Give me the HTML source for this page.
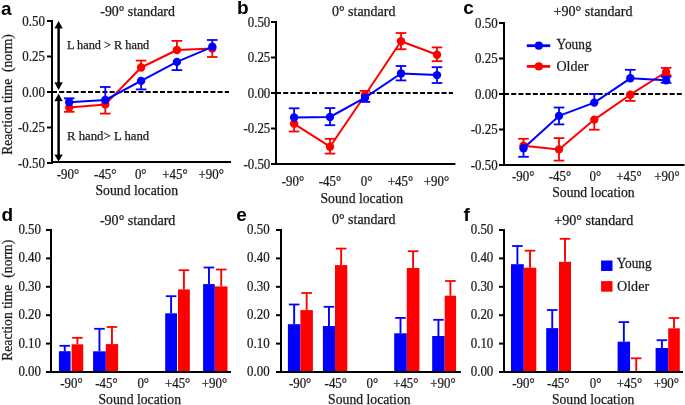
<!DOCTYPE html>
<html><head><meta charset="utf-8"><title>Figure</title>
<style>html,body{margin:0;padding:0;background:#fff;width:685px;height:405px;overflow:hidden}svg{display:block;will-change:transform}</style>
</head><body>
<svg width="685" height="405" viewBox="0 0 685 405">
<rect width="685" height="405" fill="#fff"/>
<line x1="52" y1="92" x2="229" y2="92" stroke="#000" stroke-width="1.9" stroke-dasharray="5 2.2"/>
<line x1="52" y1="20" x2="52" y2="164" stroke="#000" stroke-width="2"/>
<line x1="47" y1="21" x2="53" y2="21" stroke="#000" stroke-width="2"/>
<text transform="translate(44.9,25.9) scale(0.91,1)" font-size="14.2" text-anchor="end" font-family="'Liberation Serif', serif" font-weight="normal" fill="#1a1a1a" stroke="#1a1a1a" stroke-width="0.25">0.50</text>
<line x1="47" y1="56.5" x2="53" y2="56.5" stroke="#000" stroke-width="2"/>
<text transform="translate(44.9,61.4) scale(0.91,1)" font-size="14.2" text-anchor="end" font-family="'Liberation Serif', serif" font-weight="normal" fill="#1a1a1a" stroke="#1a1a1a" stroke-width="0.25">0.25</text>
<line x1="47" y1="92" x2="53" y2="92" stroke="#000" stroke-width="2"/>
<text transform="translate(44.9,96.9) scale(0.91,1)" font-size="14.2" text-anchor="end" font-family="'Liberation Serif', serif" font-weight="normal" fill="#1a1a1a" stroke="#1a1a1a" stroke-width="0.25">0.00</text>
<line x1="47" y1="127.5" x2="53" y2="127.5" stroke="#000" stroke-width="2"/>
<text transform="translate(44.9,132.4) scale(0.91,1)" font-size="14.2" text-anchor="end" font-family="'Liberation Serif', serif" font-weight="normal" fill="#1a1a1a" stroke="#1a1a1a" stroke-width="0.25">-0.25</text>
<line x1="47" y1="163" x2="53" y2="163" stroke="#000" stroke-width="2"/>
<text transform="translate(44.9,167.9) scale(0.91,1)" font-size="14.2" text-anchor="end" font-family="'Liberation Serif', serif" font-weight="normal" fill="#1a1a1a" stroke="#1a1a1a" stroke-width="0.25">-0.50</text>
<line x1="51" y1="162" x2="231" y2="162" stroke="#000" stroke-width="2"/>
<text transform="translate(68,178.9) scale(0.91,1)" font-size="14.2" text-anchor="middle" font-family="'Liberation Serif', serif" font-weight="normal" fill="#1a1a1a" stroke="#1a1a1a" stroke-width="0.25">-90&#176;</text>
<text transform="translate(105.3,178.9) scale(0.91,1)" font-size="14.2" text-anchor="middle" font-family="'Liberation Serif', serif" font-weight="normal" fill="#1a1a1a" stroke="#1a1a1a" stroke-width="0.25">-45&#176;</text>
<text transform="translate(140.7,178.9) scale(0.91,1)" font-size="14.2" text-anchor="middle" font-family="'Liberation Serif', serif" font-weight="normal" fill="#1a1a1a" stroke="#1a1a1a" stroke-width="0.25">0&#176;</text>
<text transform="translate(174.9,178.9) scale(0.91,1)" font-size="14.2" text-anchor="middle" font-family="'Liberation Serif', serif" font-weight="normal" fill="#1a1a1a" stroke="#1a1a1a" stroke-width="0.25">+45&#176;</text>
<text transform="translate(211.2,178.9) scale(0.91,1)" font-size="14.2" text-anchor="middle" font-family="'Liberation Serif', serif" font-weight="normal" fill="#1a1a1a" stroke="#1a1a1a" stroke-width="0.25">+90&#176;</text>
<text x="95.5" y="194.7" font-size="14" text-anchor="start" font-family="'Liberation Serif', serif" font-weight="normal" fill="#1a1a1a" textLength="82.5" lengthAdjust="spacingAndGlyphs" stroke="#1a1a1a" stroke-width="0.25">Sound location</text>
<text x="100.3" y="15.8" font-size="14" text-anchor="start" font-family="'Liberation Serif', serif" font-weight="normal" fill="#1a1a1a" textLength="74.6" lengthAdjust="spacingAndGlyphs" stroke="#1a1a1a" stroke-width="0.25">-90&#176; standard</text>
<line x1="276" y1="93" x2="453" y2="93" stroke="#000" stroke-width="1.9" stroke-dasharray="5 2.2"/>
<line x1="276" y1="21" x2="276" y2="165" stroke="#000" stroke-width="2"/>
<line x1="271" y1="22" x2="277" y2="22" stroke="#000" stroke-width="2"/>
<text transform="translate(270.3,26.9) scale(0.91,1)" font-size="14.2" text-anchor="end" font-family="'Liberation Serif', serif" font-weight="normal" fill="#1a1a1a" stroke="#1a1a1a" stroke-width="0.25">0.50</text>
<line x1="271" y1="57.5" x2="277" y2="57.5" stroke="#000" stroke-width="2"/>
<text transform="translate(270.3,62.4) scale(0.91,1)" font-size="14.2" text-anchor="end" font-family="'Liberation Serif', serif" font-weight="normal" fill="#1a1a1a" stroke="#1a1a1a" stroke-width="0.25">0.25</text>
<line x1="271" y1="93" x2="277" y2="93" stroke="#000" stroke-width="2"/>
<text transform="translate(270.3,97.9) scale(0.91,1)" font-size="14.2" text-anchor="end" font-family="'Liberation Serif', serif" font-weight="normal" fill="#1a1a1a" stroke="#1a1a1a" stroke-width="0.25">0.00</text>
<line x1="271" y1="128.5" x2="277" y2="128.5" stroke="#000" stroke-width="2"/>
<text transform="translate(270.3,133.4) scale(0.91,1)" font-size="14.2" text-anchor="end" font-family="'Liberation Serif', serif" font-weight="normal" fill="#1a1a1a" stroke="#1a1a1a" stroke-width="0.25">-0.25</text>
<line x1="271" y1="164" x2="277" y2="164" stroke="#000" stroke-width="2"/>
<text transform="translate(270.3,168.9) scale(0.91,1)" font-size="14.2" text-anchor="end" font-family="'Liberation Serif', serif" font-weight="normal" fill="#1a1a1a" stroke="#1a1a1a" stroke-width="0.25">-0.50</text>
<line x1="275" y1="164" x2="455.4" y2="164" stroke="#000" stroke-width="2"/>
<text transform="translate(293,185.8) scale(0.91,1)" font-size="14.2" text-anchor="middle" font-family="'Liberation Serif', serif" font-weight="normal" fill="#1a1a1a" stroke="#1a1a1a" stroke-width="0.25">-90&#176;</text>
<text transform="translate(329.9,185.8) scale(0.91,1)" font-size="14.2" text-anchor="middle" font-family="'Liberation Serif', serif" font-weight="normal" fill="#1a1a1a" stroke="#1a1a1a" stroke-width="0.25">-45&#176;</text>
<text transform="translate(366.5,185.8) scale(0.91,1)" font-size="14.2" text-anchor="middle" font-family="'Liberation Serif', serif" font-weight="normal" fill="#1a1a1a" stroke="#1a1a1a" stroke-width="0.25">0&#176;</text>
<text transform="translate(400.4,185.8) scale(0.91,1)" font-size="14.2" text-anchor="middle" font-family="'Liberation Serif', serif" font-weight="normal" fill="#1a1a1a" stroke="#1a1a1a" stroke-width="0.25">+45&#176;</text>
<text transform="translate(436.5,185.8) scale(0.91,1)" font-size="14.2" text-anchor="middle" font-family="'Liberation Serif', serif" font-weight="normal" fill="#1a1a1a" stroke="#1a1a1a" stroke-width="0.25">+90&#176;</text>
<text x="320.5" y="202.8" font-size="14" text-anchor="start" font-family="'Liberation Serif', serif" font-weight="normal" fill="#1a1a1a" textLength="82.5" lengthAdjust="spacingAndGlyphs" stroke="#1a1a1a" stroke-width="0.25">Sound location</text>
<text x="332" y="15.8" font-size="14" text-anchor="start" font-family="'Liberation Serif', serif" font-weight="normal" fill="#1a1a1a" textLength="63.4" lengthAdjust="spacingAndGlyphs" stroke="#1a1a1a" stroke-width="0.25">0&#176; standard</text>
<line x1="504" y1="94" x2="682" y2="94" stroke="#000" stroke-width="1.9" stroke-dasharray="5 2.2"/>
<line x1="504" y1="22" x2="504" y2="166" stroke="#000" stroke-width="2"/>
<line x1="499" y1="23" x2="505" y2="23" stroke="#000" stroke-width="2"/>
<text transform="translate(497.7,27.9) scale(0.91,1)" font-size="14.2" text-anchor="end" font-family="'Liberation Serif', serif" font-weight="normal" fill="#1a1a1a" stroke="#1a1a1a" stroke-width="0.25">0.50</text>
<line x1="499" y1="58.5" x2="505" y2="58.5" stroke="#000" stroke-width="2"/>
<text transform="translate(497.7,63.4) scale(0.91,1)" font-size="14.2" text-anchor="end" font-family="'Liberation Serif', serif" font-weight="normal" fill="#1a1a1a" stroke="#1a1a1a" stroke-width="0.25">0.25</text>
<line x1="499" y1="94" x2="505" y2="94" stroke="#000" stroke-width="2"/>
<text transform="translate(497.7,98.9) scale(0.91,1)" font-size="14.2" text-anchor="end" font-family="'Liberation Serif', serif" font-weight="normal" fill="#1a1a1a" stroke="#1a1a1a" stroke-width="0.25">0.00</text>
<line x1="499" y1="129.5" x2="505" y2="129.5" stroke="#000" stroke-width="2"/>
<text transform="translate(497.7,134.4) scale(0.91,1)" font-size="14.2" text-anchor="end" font-family="'Liberation Serif', serif" font-weight="normal" fill="#1a1a1a" stroke="#1a1a1a" stroke-width="0.25">-0.25</text>
<line x1="499" y1="165" x2="505" y2="165" stroke="#000" stroke-width="2"/>
<text transform="translate(497.7,169.9) scale(0.91,1)" font-size="14.2" text-anchor="end" font-family="'Liberation Serif', serif" font-weight="normal" fill="#1a1a1a" stroke="#1a1a1a" stroke-width="0.25">-0.50</text>
<line x1="503" y1="165" x2="684.5" y2="165" stroke="#000" stroke-width="2"/>
<text transform="translate(523.2,181) scale(0.91,1)" font-size="14.2" text-anchor="middle" font-family="'Liberation Serif', serif" font-weight="normal" fill="#1a1a1a" stroke="#1a1a1a" stroke-width="0.25">-90&#176;</text>
<text transform="translate(559.9,181) scale(0.91,1)" font-size="14.2" text-anchor="middle" font-family="'Liberation Serif', serif" font-weight="normal" fill="#1a1a1a" stroke="#1a1a1a" stroke-width="0.25">-45&#176;</text>
<text transform="translate(595.4,181) scale(0.91,1)" font-size="14.2" text-anchor="middle" font-family="'Liberation Serif', serif" font-weight="normal" fill="#1a1a1a" stroke="#1a1a1a" stroke-width="0.25">0&#176;</text>
<text transform="translate(629,181) scale(0.91,1)" font-size="14.2" text-anchor="middle" font-family="'Liberation Serif', serif" font-weight="normal" fill="#1a1a1a" stroke="#1a1a1a" stroke-width="0.25">+45&#176;</text>
<text transform="translate(667,181) scale(0.91,1)" font-size="14.2" text-anchor="middle" font-family="'Liberation Serif', serif" font-weight="normal" fill="#1a1a1a" stroke="#1a1a1a" stroke-width="0.25">+90&#176;</text>
<text x="552.2" y="197.4" font-size="14" text-anchor="start" font-family="'Liberation Serif', serif" font-weight="normal" fill="#1a1a1a" textLength="82.5" lengthAdjust="spacingAndGlyphs" stroke="#1a1a1a" stroke-width="0.25">Sound location</text>
<text x="553.5" y="16.4" font-size="14" text-anchor="start" font-family="'Liberation Serif', serif" font-weight="normal" fill="#1a1a1a" textLength="79" lengthAdjust="spacingAndGlyphs" stroke="#1a1a1a" stroke-width="0.25">+90&#176; standard</text>
<text transform="translate(12.3,94.5) rotate(-90)" x="0" y="0" font-size="14" text-anchor="middle" font-family="'Liberation Serif', serif" fill="#1a1a1a" stroke="#1a1a1a" stroke-width="0.25" textLength="120.7" lengthAdjust="spacingAndGlyphs">Reaction time&#160; (norm)</text>
<line x1="58.6" y1="27" x2="58.6" y2="84" stroke="#000" stroke-width="2.5"/>
<polygon points="58.6,20.9 62.8,28.4 58.6,28.17 54.4,28.4" fill="#000"/>
<polygon points="58.6,90.1 62.8,82.2 58.6,82.44 54.4,82.2" fill="#000"/>
<line x1="58.6" y1="100" x2="58.6" y2="156" stroke="#000" stroke-width="2.5"/>
<polygon points="58.6,93.6 62.8,101.2 58.6,100.97 54.4,101.2" fill="#000"/>
<polygon points="58.6,161.6 62.8,154.6 58.6,154.81 54.4,154.6" fill="#000"/>
<text x="67" y="48.9" font-size="12.2" text-anchor="start" font-family="'Liberation Serif', serif" font-weight="normal" fill="#1a1a1a" textLength="82.2" lengthAdjust="spacingAndGlyphs" stroke="#1a1a1a" stroke-width="0.25">L hand &gt; R hand</text>
<text x="67" y="139.7" font-size="12.2" text-anchor="start" font-family="'Liberation Serif', serif" font-weight="normal" fill="#1a1a1a" textLength="82.2" lengthAdjust="spacingAndGlyphs" stroke="#1a1a1a" stroke-width="0.25">R hand&gt; L  hand</text>
<polyline points="69.2,107.6 105.3,104.4 141.1,67.5 176.9,50 212.3,48.5" fill="none" stroke="#ff0000" stroke-width="2.0" stroke-linejoin="round"/>
<line x1="69.2" y1="107.6" x2="69.2" y2="111.8" stroke="#ff0000" stroke-width="1.8"/>
<line x1="63.9" y1="111.8" x2="74.5" y2="111.8" stroke="#ff0000" stroke-width="1.8"/>
<line x1="105.3" y1="104.4" x2="105.3" y2="113.6" stroke="#ff0000" stroke-width="1.8"/>
<line x1="100" y1="113.6" x2="110.6" y2="113.6" stroke="#ff0000" stroke-width="1.8"/>
<line x1="141.1" y1="67.5" x2="141.1" y2="60.6" stroke="#ff0000" stroke-width="1.8"/>
<line x1="135.8" y1="60.6" x2="146.4" y2="60.6" stroke="#ff0000" stroke-width="1.8"/>
<line x1="176.9" y1="50" x2="176.9" y2="40.9" stroke="#ff0000" stroke-width="1.8"/>
<line x1="171.6" y1="40.9" x2="182.2" y2="40.9" stroke="#ff0000" stroke-width="1.8"/>
<line x1="212.3" y1="48.5" x2="212.3" y2="57" stroke="#ff0000" stroke-width="1.8"/>
<line x1="207" y1="57" x2="217.6" y2="57" stroke="#ff0000" stroke-width="1.8"/>
<circle cx="69.2" cy="107.6" r="4.2" fill="#ff0000"/>
<circle cx="105.3" cy="104.4" r="4.2" fill="#ff0000"/>
<circle cx="141.1" cy="67.5" r="4.2" fill="#ff0000"/>
<circle cx="176.9" cy="50" r="4.2" fill="#ff0000"/>
<circle cx="212.3" cy="48.5" r="4.2" fill="#ff0000"/>
<polyline points="69.2,102.2 105.3,100 141.1,80.9 176.9,61.9 212.3,46.8" fill="none" stroke="#0000ff" stroke-width="2.0" stroke-linejoin="round"/>
<line x1="69.2" y1="102.2" x2="69.2" y2="98.3" stroke="#0000ff" stroke-width="1.8"/>
<line x1="63.9" y1="98.3" x2="74.5" y2="98.3" stroke="#0000ff" stroke-width="1.8"/>
<line x1="105.3" y1="100" x2="105.3" y2="87" stroke="#0000ff" stroke-width="1.8"/>
<line x1="100" y1="87" x2="110.6" y2="87" stroke="#0000ff" stroke-width="1.8"/>
<line x1="141.1" y1="80.9" x2="141.1" y2="89.4" stroke="#0000ff" stroke-width="1.8"/>
<line x1="135.8" y1="89.4" x2="146.4" y2="89.4" stroke="#0000ff" stroke-width="1.8"/>
<line x1="176.9" y1="61.9" x2="176.9" y2="70.1" stroke="#0000ff" stroke-width="1.8"/>
<line x1="171.6" y1="70.1" x2="182.2" y2="70.1" stroke="#0000ff" stroke-width="1.8"/>
<line x1="212.3" y1="46.8" x2="212.3" y2="40" stroke="#0000ff" stroke-width="1.8"/>
<line x1="207" y1="40" x2="217.6" y2="40" stroke="#0000ff" stroke-width="1.8"/>
<circle cx="69.2" cy="102.2" r="4.2" fill="#0000ff"/>
<circle cx="105.3" cy="100" r="4.2" fill="#0000ff"/>
<circle cx="141.1" cy="80.9" r="4.2" fill="#0000ff"/>
<circle cx="176.9" cy="61.9" r="4.2" fill="#0000ff"/>
<circle cx="212.3" cy="46.8" r="4.2" fill="#0000ff"/>
<polyline points="294.1,123.8 330,146.7 365,95.3 401,41.3 437,54.7" fill="none" stroke="#ff0000" stroke-width="2.0" stroke-linejoin="round"/>
<line x1="294.1" y1="123.8" x2="294.1" y2="131.5" stroke="#ff0000" stroke-width="1.8"/>
<line x1="288.8" y1="131.5" x2="299.4" y2="131.5" stroke="#ff0000" stroke-width="1.8"/>
<line x1="330" y1="146.7" x2="330" y2="138.8" stroke="#ff0000" stroke-width="1.8"/>
<line x1="324.7" y1="138.8" x2="335.3" y2="138.8" stroke="#ff0000" stroke-width="1.8"/>
<line x1="330" y1="146.7" x2="330" y2="153.6" stroke="#ff0000" stroke-width="1.8"/>
<line x1="324.7" y1="153.6" x2="335.3" y2="153.6" stroke="#ff0000" stroke-width="1.8"/>
<line x1="365" y1="95.3" x2="365" y2="90.9" stroke="#ff0000" stroke-width="1.8"/>
<line x1="359.7" y1="90.9" x2="370.3" y2="90.9" stroke="#ff0000" stroke-width="1.8"/>
<line x1="401" y1="41.3" x2="401" y2="33" stroke="#ff0000" stroke-width="1.8"/>
<line x1="395.7" y1="33" x2="406.3" y2="33" stroke="#ff0000" stroke-width="1.8"/>
<line x1="401" y1="41.3" x2="401" y2="49.2" stroke="#ff0000" stroke-width="1.8"/>
<line x1="395.7" y1="49.2" x2="406.3" y2="49.2" stroke="#ff0000" stroke-width="1.8"/>
<line x1="437" y1="54.7" x2="437" y2="47.4" stroke="#ff0000" stroke-width="1.8"/>
<line x1="431.7" y1="47.4" x2="442.3" y2="47.4" stroke="#ff0000" stroke-width="1.8"/>
<line x1="437" y1="54.7" x2="437" y2="61.2" stroke="#ff0000" stroke-width="1.8"/>
<line x1="431.7" y1="61.2" x2="442.3" y2="61.2" stroke="#ff0000" stroke-width="1.8"/>
<circle cx="294.1" cy="123.8" r="4.2" fill="#ff0000"/>
<circle cx="330" cy="146.7" r="4.2" fill="#ff0000"/>
<circle cx="365" cy="95.3" r="4.2" fill="#ff0000"/>
<circle cx="401" cy="41.3" r="4.2" fill="#ff0000"/>
<circle cx="437" cy="54.7" r="4.2" fill="#ff0000"/>
<polyline points="294.1,117.5 330,117 365,97.7 401,73.5 437,75.1" fill="none" stroke="#0000ff" stroke-width="2.0" stroke-linejoin="round"/>
<line x1="294.1" y1="117.5" x2="294.1" y2="108.3" stroke="#0000ff" stroke-width="1.8"/>
<line x1="288.8" y1="108.3" x2="299.4" y2="108.3" stroke="#0000ff" stroke-width="1.8"/>
<line x1="330" y1="117" x2="330" y2="108.1" stroke="#0000ff" stroke-width="1.8"/>
<line x1="324.7" y1="108.1" x2="335.3" y2="108.1" stroke="#0000ff" stroke-width="1.8"/>
<line x1="330" y1="117" x2="330" y2="125.2" stroke="#0000ff" stroke-width="1.8"/>
<line x1="324.7" y1="125.2" x2="335.3" y2="125.2" stroke="#0000ff" stroke-width="1.8"/>
<line x1="365" y1="97.7" x2="365" y2="101.9" stroke="#0000ff" stroke-width="1.8"/>
<line x1="359.7" y1="101.9" x2="370.3" y2="101.9" stroke="#0000ff" stroke-width="1.8"/>
<line x1="401" y1="73.5" x2="401" y2="66" stroke="#0000ff" stroke-width="1.8"/>
<line x1="395.7" y1="66" x2="406.3" y2="66" stroke="#0000ff" stroke-width="1.8"/>
<line x1="401" y1="73.5" x2="401" y2="80.4" stroke="#0000ff" stroke-width="1.8"/>
<line x1="395.7" y1="80.4" x2="406.3" y2="80.4" stroke="#0000ff" stroke-width="1.8"/>
<line x1="437" y1="75.1" x2="437" y2="67.2" stroke="#0000ff" stroke-width="1.8"/>
<line x1="431.7" y1="67.2" x2="442.3" y2="67.2" stroke="#0000ff" stroke-width="1.8"/>
<line x1="437" y1="75.1" x2="437" y2="83" stroke="#0000ff" stroke-width="1.8"/>
<line x1="431.7" y1="83" x2="442.3" y2="83" stroke="#0000ff" stroke-width="1.8"/>
<circle cx="294.1" cy="117.5" r="4.2" fill="#0000ff"/>
<circle cx="330" cy="117" r="4.2" fill="#0000ff"/>
<circle cx="365" cy="97.7" r="4.2" fill="#0000ff"/>
<circle cx="401" cy="73.5" r="4.2" fill="#0000ff"/>
<circle cx="437" cy="75.1" r="4.2" fill="#0000ff"/>
<polyline points="523.5,145.8 559,149.4 594.3,119.6 630.3,94.7 666.1,72" fill="none" stroke="#ff0000" stroke-width="2.0" stroke-linejoin="round"/>
<line x1="523.5" y1="145.8" x2="523.5" y2="138.8" stroke="#ff0000" stroke-width="1.8"/>
<line x1="518.2" y1="138.8" x2="528.8" y2="138.8" stroke="#ff0000" stroke-width="1.8"/>
<line x1="559" y1="149.4" x2="559" y2="138.1" stroke="#ff0000" stroke-width="1.8"/>
<line x1="553.7" y1="138.1" x2="564.3" y2="138.1" stroke="#ff0000" stroke-width="1.8"/>
<line x1="559" y1="149.4" x2="559" y2="160.6" stroke="#ff0000" stroke-width="1.8"/>
<line x1="553.7" y1="160.6" x2="564.3" y2="160.6" stroke="#ff0000" stroke-width="1.8"/>
<line x1="594.3" y1="119.6" x2="594.3" y2="129.7" stroke="#ff0000" stroke-width="1.8"/>
<line x1="589" y1="129.7" x2="599.6" y2="129.7" stroke="#ff0000" stroke-width="1.8"/>
<line x1="630.3" y1="94.7" x2="630.3" y2="100.9" stroke="#ff0000" stroke-width="1.8"/>
<line x1="625" y1="100.9" x2="635.6" y2="100.9" stroke="#ff0000" stroke-width="1.8"/>
<line x1="666.1" y1="72" x2="666.1" y2="67.9" stroke="#ff0000" stroke-width="1.8"/>
<line x1="660.8" y1="67.9" x2="671.4" y2="67.9" stroke="#ff0000" stroke-width="1.8"/>
<line x1="666.1" y1="72" x2="666.1" y2="75.1" stroke="#ff0000" stroke-width="1.8"/>
<line x1="660.8" y1="75.1" x2="671.4" y2="75.1" stroke="#ff0000" stroke-width="1.8"/>
<circle cx="523.5" cy="145.8" r="4.2" fill="#ff0000"/>
<circle cx="559" cy="149.4" r="4.2" fill="#ff0000"/>
<circle cx="594.3" cy="119.6" r="4.2" fill="#ff0000"/>
<circle cx="630.3" cy="94.7" r="4.2" fill="#ff0000"/>
<circle cx="666.1" cy="72" r="4.2" fill="#ff0000"/>
<polyline points="523.5,148.3 559,115.9 594.3,102.6 630.3,78.3 666.1,80.3" fill="none" stroke="#0000ff" stroke-width="2.0" stroke-linejoin="round"/>
<line x1="523.5" y1="148.3" x2="523.5" y2="156.8" stroke="#0000ff" stroke-width="1.8"/>
<line x1="518.2" y1="156.8" x2="528.8" y2="156.8" stroke="#0000ff" stroke-width="1.8"/>
<line x1="559" y1="115.9" x2="559" y2="107.5" stroke="#0000ff" stroke-width="1.8"/>
<line x1="553.7" y1="107.5" x2="564.3" y2="107.5" stroke="#0000ff" stroke-width="1.8"/>
<line x1="559" y1="115.9" x2="559" y2="124.4" stroke="#0000ff" stroke-width="1.8"/>
<line x1="553.7" y1="124.4" x2="564.3" y2="124.4" stroke="#0000ff" stroke-width="1.8"/>
<line x1="594.3" y1="102.6" x2="594.3" y2="93.9" stroke="#0000ff" stroke-width="1.8"/>
<line x1="589" y1="93.9" x2="599.6" y2="93.9" stroke="#0000ff" stroke-width="1.8"/>
<line x1="630.3" y1="78.3" x2="630.3" y2="69.8" stroke="#0000ff" stroke-width="1.8"/>
<line x1="625" y1="69.8" x2="635.6" y2="69.8" stroke="#0000ff" stroke-width="1.8"/>
<line x1="666.1" y1="80.3" x2="666.1" y2="76.7" stroke="#0000ff" stroke-width="1.8"/>
<line x1="660.8" y1="76.7" x2="671.4" y2="76.7" stroke="#0000ff" stroke-width="1.8"/>
<line x1="666.1" y1="80.3" x2="666.1" y2="82.8" stroke="#0000ff" stroke-width="1.8"/>
<line x1="660.8" y1="82.8" x2="671.4" y2="82.8" stroke="#0000ff" stroke-width="1.8"/>
<circle cx="523.5" cy="148.3" r="4.2" fill="#0000ff"/>
<circle cx="559" cy="115.9" r="4.2" fill="#0000ff"/>
<circle cx="594.3" cy="102.6" r="4.2" fill="#0000ff"/>
<circle cx="630.3" cy="78.3" r="4.2" fill="#0000ff"/>
<circle cx="666.1" cy="80.3" r="4.2" fill="#0000ff"/>
<line x1="526.8" y1="45.7" x2="550.2" y2="45.7" stroke="#0000ff" stroke-width="2.8"/>
<circle cx="538.8" cy="45.7" r="4.1" fill="#0000ff"/>
<line x1="526.8" y1="66.4" x2="550.2" y2="66.4" stroke="#ff0000" stroke-width="2.8"/>
<circle cx="538.8" cy="66.4" r="4.1" fill="#ff0000"/>
<text transform="translate(556.6,49.1) scale(0.89,1)" font-size="15" text-anchor="start" font-family="'Liberation Serif', serif" font-weight="normal" fill="#1a1a1a" stroke="#1a1a1a" stroke-width="0.25">Young</text>
<text transform="translate(556.4,70.7) scale(0.94,1)" font-size="15" text-anchor="start" font-family="'Liberation Serif', serif" font-weight="normal" fill="#1a1a1a" stroke="#1a1a1a" stroke-width="0.25">Older</text>
<line x1="51" y1="229" x2="51" y2="373" stroke="#000" stroke-width="2"/>
<line x1="46" y1="230" x2="52" y2="230" stroke="#000" stroke-width="2"/>
<text transform="translate(41,233.9) scale(0.91,1)" font-size="14.2" text-anchor="end" font-family="'Liberation Serif', serif" font-weight="normal" fill="#1a1a1a" stroke="#1a1a1a" stroke-width="0.25">0.50</text>
<line x1="46" y1="258.4" x2="52" y2="258.4" stroke="#000" stroke-width="2"/>
<text transform="translate(41,262.3) scale(0.91,1)" font-size="14.2" text-anchor="end" font-family="'Liberation Serif', serif" font-weight="normal" fill="#1a1a1a" stroke="#1a1a1a" stroke-width="0.25">0.40</text>
<line x1="46" y1="286.8" x2="52" y2="286.8" stroke="#000" stroke-width="2"/>
<text transform="translate(41,290.7) scale(0.91,1)" font-size="14.2" text-anchor="end" font-family="'Liberation Serif', serif" font-weight="normal" fill="#1a1a1a" stroke="#1a1a1a" stroke-width="0.25">0.30</text>
<line x1="46" y1="315.2" x2="52" y2="315.2" stroke="#000" stroke-width="2"/>
<text transform="translate(41,319.1) scale(0.91,1)" font-size="14.2" text-anchor="end" font-family="'Liberation Serif', serif" font-weight="normal" fill="#1a1a1a" stroke="#1a1a1a" stroke-width="0.25">0.20</text>
<line x1="46" y1="343.6" x2="52" y2="343.6" stroke="#000" stroke-width="2"/>
<text transform="translate(41,347.5) scale(0.91,1)" font-size="14.2" text-anchor="end" font-family="'Liberation Serif', serif" font-weight="normal" fill="#1a1a1a" stroke="#1a1a1a" stroke-width="0.25">0.10</text>
<line x1="46" y1="372" x2="52" y2="372" stroke="#000" stroke-width="2"/>
<text transform="translate(41,375.9) scale(0.91,1)" font-size="14.2" text-anchor="end" font-family="'Liberation Serif', serif" font-weight="normal" fill="#1a1a1a" stroke="#1a1a1a" stroke-width="0.25">0.00</text>
<line x1="46" y1="372" x2="231" y2="372" stroke="#000" stroke-width="2"/>
<text transform="translate(71.4,388) scale(0.91,1)" font-size="14.2" text-anchor="middle" font-family="'Liberation Serif', serif" font-weight="normal" fill="#1a1a1a" stroke="#1a1a1a" stroke-width="0.25">-90&#176;</text>
<text transform="translate(106.4,388) scale(0.91,1)" font-size="14.2" text-anchor="middle" font-family="'Liberation Serif', serif" font-weight="normal" fill="#1a1a1a" stroke="#1a1a1a" stroke-width="0.25">-45&#176;</text>
<text transform="translate(143.2,388) scale(0.91,1)" font-size="14.2" text-anchor="middle" font-family="'Liberation Serif', serif" font-weight="normal" fill="#1a1a1a" stroke="#1a1a1a" stroke-width="0.25">0&#176;</text>
<text transform="translate(177.6,388) scale(0.91,1)" font-size="14.2" text-anchor="middle" font-family="'Liberation Serif', serif" font-weight="normal" fill="#1a1a1a" stroke="#1a1a1a" stroke-width="0.25">+45&#176;</text>
<text transform="translate(214.4,388) scale(0.91,1)" font-size="14.2" text-anchor="middle" font-family="'Liberation Serif', serif" font-weight="normal" fill="#1a1a1a" stroke="#1a1a1a" stroke-width="0.25">+90&#176;</text>
<text x="98.5" y="404.1" font-size="14" text-anchor="start" font-family="'Liberation Serif', serif" font-weight="normal" fill="#1a1a1a" textLength="82.5" lengthAdjust="spacingAndGlyphs" stroke="#1a1a1a" stroke-width="0.25">Sound location</text>
<text x="99.9" y="225.1" font-size="14" text-anchor="start" font-family="'Liberation Serif', serif" font-weight="normal" fill="#1a1a1a" textLength="75.5" lengthAdjust="spacingAndGlyphs" stroke="#1a1a1a" stroke-width="0.25">-90&#176; standard</text>
<line x1="281" y1="229" x2="281" y2="373" stroke="#000" stroke-width="2"/>
<line x1="276" y1="230" x2="282" y2="230" stroke="#000" stroke-width="2"/>
<text transform="translate(269.6,233.9) scale(0.91,1)" font-size="14.2" text-anchor="end" font-family="'Liberation Serif', serif" font-weight="normal" fill="#1a1a1a" stroke="#1a1a1a" stroke-width="0.25">0.50</text>
<line x1="276" y1="258.4" x2="282" y2="258.4" stroke="#000" stroke-width="2"/>
<text transform="translate(269.6,262.3) scale(0.91,1)" font-size="14.2" text-anchor="end" font-family="'Liberation Serif', serif" font-weight="normal" fill="#1a1a1a" stroke="#1a1a1a" stroke-width="0.25">0.40</text>
<line x1="276" y1="286.8" x2="282" y2="286.8" stroke="#000" stroke-width="2"/>
<text transform="translate(269.6,290.7) scale(0.91,1)" font-size="14.2" text-anchor="end" font-family="'Liberation Serif', serif" font-weight="normal" fill="#1a1a1a" stroke="#1a1a1a" stroke-width="0.25">0.30</text>
<line x1="276" y1="315.2" x2="282" y2="315.2" stroke="#000" stroke-width="2"/>
<text transform="translate(269.6,319.1) scale(0.91,1)" font-size="14.2" text-anchor="end" font-family="'Liberation Serif', serif" font-weight="normal" fill="#1a1a1a" stroke="#1a1a1a" stroke-width="0.25">0.20</text>
<line x1="276" y1="343.6" x2="282" y2="343.6" stroke="#000" stroke-width="2"/>
<text transform="translate(269.6,347.5) scale(0.91,1)" font-size="14.2" text-anchor="end" font-family="'Liberation Serif', serif" font-weight="normal" fill="#1a1a1a" stroke="#1a1a1a" stroke-width="0.25">0.10</text>
<line x1="276" y1="372" x2="282" y2="372" stroke="#000" stroke-width="2"/>
<text transform="translate(269.6,375.9) scale(0.91,1)" font-size="14.2" text-anchor="end" font-family="'Liberation Serif', serif" font-weight="normal" fill="#1a1a1a" stroke="#1a1a1a" stroke-width="0.25">0.00</text>
<line x1="276" y1="372" x2="460.7" y2="372" stroke="#000" stroke-width="2"/>
<text transform="translate(300.1,388) scale(0.91,1)" font-size="14.2" text-anchor="middle" font-family="'Liberation Serif', serif" font-weight="normal" fill="#1a1a1a" stroke="#1a1a1a" stroke-width="0.25">-90&#176;</text>
<text transform="translate(335.8,388) scale(0.91,1)" font-size="14.2" text-anchor="middle" font-family="'Liberation Serif', serif" font-weight="normal" fill="#1a1a1a" stroke="#1a1a1a" stroke-width="0.25">-45&#176;</text>
<text transform="translate(372.4,388) scale(0.91,1)" font-size="14.2" text-anchor="middle" font-family="'Liberation Serif', serif" font-weight="normal" fill="#1a1a1a" stroke="#1a1a1a" stroke-width="0.25">0&#176;</text>
<text transform="translate(405.8,388) scale(0.91,1)" font-size="14.2" text-anchor="middle" font-family="'Liberation Serif', serif" font-weight="normal" fill="#1a1a1a" stroke="#1a1a1a" stroke-width="0.25">+45&#176;</text>
<text transform="translate(443,388) scale(0.91,1)" font-size="14.2" text-anchor="middle" font-family="'Liberation Serif', serif" font-weight="normal" fill="#1a1a1a" stroke="#1a1a1a" stroke-width="0.25">+90&#176;</text>
<text x="328.1" y="404.1" font-size="14" text-anchor="start" font-family="'Liberation Serif', serif" font-weight="normal" fill="#1a1a1a" textLength="82.5" lengthAdjust="spacingAndGlyphs" stroke="#1a1a1a" stroke-width="0.25">Sound location</text>
<text x="332" y="224.3" font-size="14" text-anchor="start" font-family="'Liberation Serif', serif" font-weight="normal" fill="#1a1a1a" textLength="63.4" lengthAdjust="spacingAndGlyphs" stroke="#1a1a1a" stroke-width="0.25">0&#176; standard</text>
<line x1="504" y1="229" x2="504" y2="373" stroke="#000" stroke-width="2"/>
<line x1="499" y1="230" x2="505" y2="230" stroke="#000" stroke-width="2"/>
<text transform="translate(493.3,233.9) scale(0.91,1)" font-size="14.2" text-anchor="end" font-family="'Liberation Serif', serif" font-weight="normal" fill="#1a1a1a" stroke="#1a1a1a" stroke-width="0.25">0.50</text>
<line x1="499" y1="258.4" x2="505" y2="258.4" stroke="#000" stroke-width="2"/>
<text transform="translate(493.3,262.3) scale(0.91,1)" font-size="14.2" text-anchor="end" font-family="'Liberation Serif', serif" font-weight="normal" fill="#1a1a1a" stroke="#1a1a1a" stroke-width="0.25">0.40</text>
<line x1="499" y1="286.8" x2="505" y2="286.8" stroke="#000" stroke-width="2"/>
<text transform="translate(493.3,290.7) scale(0.91,1)" font-size="14.2" text-anchor="end" font-family="'Liberation Serif', serif" font-weight="normal" fill="#1a1a1a" stroke="#1a1a1a" stroke-width="0.25">0.30</text>
<line x1="499" y1="315.2" x2="505" y2="315.2" stroke="#000" stroke-width="2"/>
<text transform="translate(493.3,319.1) scale(0.91,1)" font-size="14.2" text-anchor="end" font-family="'Liberation Serif', serif" font-weight="normal" fill="#1a1a1a" stroke="#1a1a1a" stroke-width="0.25">0.20</text>
<line x1="499" y1="343.6" x2="505" y2="343.6" stroke="#000" stroke-width="2"/>
<text transform="translate(493.3,347.5) scale(0.91,1)" font-size="14.2" text-anchor="end" font-family="'Liberation Serif', serif" font-weight="normal" fill="#1a1a1a" stroke="#1a1a1a" stroke-width="0.25">0.10</text>
<line x1="499" y1="372" x2="505" y2="372" stroke="#000" stroke-width="2"/>
<text transform="translate(493.3,375.9) scale(0.91,1)" font-size="14.2" text-anchor="end" font-family="'Liberation Serif', serif" font-weight="normal" fill="#1a1a1a" stroke="#1a1a1a" stroke-width="0.25">0.00</text>
<line x1="499" y1="372" x2="683" y2="372" stroke="#000" stroke-width="2"/>
<text transform="translate(523.5,388) scale(0.91,1)" font-size="14.2" text-anchor="middle" font-family="'Liberation Serif', serif" font-weight="normal" fill="#1a1a1a" stroke="#1a1a1a" stroke-width="0.25">-90&#176;</text>
<text transform="translate(558.3,388) scale(0.91,1)" font-size="14.2" text-anchor="middle" font-family="'Liberation Serif', serif" font-weight="normal" fill="#1a1a1a" stroke="#1a1a1a" stroke-width="0.25">-45&#176;</text>
<text transform="translate(595.6,388) scale(0.91,1)" font-size="14.2" text-anchor="middle" font-family="'Liberation Serif', serif" font-weight="normal" fill="#1a1a1a" stroke="#1a1a1a" stroke-width="0.25">0&#176;</text>
<text transform="translate(629.4,388) scale(0.91,1)" font-size="14.2" text-anchor="middle" font-family="'Liberation Serif', serif" font-weight="normal" fill="#1a1a1a" stroke="#1a1a1a" stroke-width="0.25">+45&#176;</text>
<text transform="translate(666.3,388) scale(0.91,1)" font-size="14.2" text-anchor="middle" font-family="'Liberation Serif', serif" font-weight="normal" fill="#1a1a1a" stroke="#1a1a1a" stroke-width="0.25">+90&#176;</text>
<text x="551.9" y="404.1" font-size="14" text-anchor="start" font-family="'Liberation Serif', serif" font-weight="normal" fill="#1a1a1a" textLength="82.5" lengthAdjust="spacingAndGlyphs" stroke="#1a1a1a" stroke-width="0.25">Sound location</text>
<text x="554.2" y="224.7" font-size="14" text-anchor="start" font-family="'Liberation Serif', serif" font-weight="normal" fill="#1a1a1a" textLength="79" lengthAdjust="spacingAndGlyphs" stroke="#1a1a1a" stroke-width="0.25">+90&#176; standard</text>
<text transform="translate(12.3,300.3) rotate(-90)" x="0" y="0" font-size="14" text-anchor="middle" font-family="'Liberation Serif', serif" fill="#1a1a1a" stroke="#1a1a1a" stroke-width="0.25" textLength="121" lengthAdjust="spacingAndGlyphs">Reaction time&#160; (norm)</text>
<line x1="64.75" y1="351.2" x2="64.75" y2="345.8" stroke="#0000ff" stroke-width="1.9"/>
<line x1="59.45" y1="345.8" x2="70.05" y2="345.8" stroke="#0000ff" stroke-width="1.8"/>
<rect x="58.9" y="351.2" width="11.7" height="20.8" fill="#0000ff"/>
<line x1="77.4" y1="344.3" x2="77.4" y2="337.8" stroke="#ff0000" stroke-width="1.9"/>
<line x1="72.1" y1="337.8" x2="82.7" y2="337.8" stroke="#ff0000" stroke-width="1.8"/>
<rect x="71.6" y="344.3" width="11.6" height="27.7" fill="#ff0000"/>
<line x1="99.45" y1="351.3" x2="99.45" y2="328.8" stroke="#0000ff" stroke-width="1.9"/>
<line x1="94.15" y1="328.8" x2="104.75" y2="328.8" stroke="#0000ff" stroke-width="1.8"/>
<rect x="93.1" y="351.3" width="12.7" height="20.7" fill="#0000ff"/>
<line x1="111.95" y1="344.1" x2="111.95" y2="327" stroke="#ff0000" stroke-width="1.9"/>
<line x1="106.65" y1="327" x2="117.25" y2="327" stroke="#ff0000" stroke-width="1.8"/>
<rect x="105.8" y="344.1" width="12.3" height="27.9" fill="#ff0000"/>
<line x1="171.1" y1="313.3" x2="171.1" y2="296.2" stroke="#0000ff" stroke-width="1.9"/>
<line x1="165.8" y1="296.2" x2="176.4" y2="296.2" stroke="#0000ff" stroke-width="1.8"/>
<rect x="165.2" y="313.3" width="11.8" height="58.7" fill="#0000ff"/>
<line x1="183.9" y1="289.4" x2="183.9" y2="270.2" stroke="#ff0000" stroke-width="1.9"/>
<line x1="178.6" y1="270.2" x2="189.2" y2="270.2" stroke="#ff0000" stroke-width="1.8"/>
<rect x="178" y="289.4" width="11.8" height="82.6" fill="#ff0000"/>
<line x1="208.95" y1="284.1" x2="208.95" y2="267.5" stroke="#0000ff" stroke-width="1.9"/>
<line x1="203.65" y1="267.5" x2="214.25" y2="267.5" stroke="#0000ff" stroke-width="1.8"/>
<rect x="203.1" y="284.1" width="11.7" height="87.9" fill="#0000ff"/>
<line x1="221.22" y1="286.4" x2="221.22" y2="269.5" stroke="#ff0000" stroke-width="1.9"/>
<line x1="215.92" y1="269.5" x2="226.53" y2="269.5" stroke="#ff0000" stroke-width="1.8"/>
<rect x="214.95" y="286.4" width="12.55" height="85.6" fill="#ff0000"/>
<line x1="294.15" y1="324.2" x2="294.15" y2="304.5" stroke="#0000ff" stroke-width="1.9"/>
<line x1="288.85" y1="304.5" x2="299.45" y2="304.5" stroke="#0000ff" stroke-width="1.8"/>
<rect x="287.9" y="324.2" width="12.5" height="47.8" fill="#0000ff"/>
<line x1="306.65" y1="310.1" x2="306.65" y2="293" stroke="#ff0000" stroke-width="1.9"/>
<line x1="301.35" y1="293" x2="311.95" y2="293" stroke="#ff0000" stroke-width="1.8"/>
<rect x="300.4" y="310.1" width="12.5" height="61.9" fill="#ff0000"/>
<line x1="328.95" y1="326" x2="328.95" y2="306.8" stroke="#0000ff" stroke-width="1.9"/>
<line x1="323.65" y1="306.8" x2="334.25" y2="306.8" stroke="#0000ff" stroke-width="1.8"/>
<rect x="322.9" y="326" width="12.1" height="46" fill="#0000ff"/>
<line x1="341.15" y1="265.1" x2="341.15" y2="248.6" stroke="#ff0000" stroke-width="1.9"/>
<line x1="335.85" y1="248.6" x2="346.45" y2="248.6" stroke="#ff0000" stroke-width="1.8"/>
<rect x="335" y="265.1" width="12.3" height="106.9" fill="#ff0000"/>
<line x1="400.5" y1="333.3" x2="400.5" y2="317.9" stroke="#0000ff" stroke-width="1.9"/>
<line x1="395.2" y1="317.9" x2="405.8" y2="317.9" stroke="#0000ff" stroke-width="1.8"/>
<rect x="394.2" y="333.3" width="12.6" height="38.7" fill="#0000ff"/>
<line x1="413.1" y1="268" x2="413.1" y2="251.2" stroke="#ff0000" stroke-width="1.9"/>
<line x1="407.8" y1="251.2" x2="418.4" y2="251.2" stroke="#ff0000" stroke-width="1.8"/>
<rect x="406.8" y="268" width="12.6" height="104" fill="#ff0000"/>
<line x1="438.45" y1="336" x2="438.45" y2="319.8" stroke="#0000ff" stroke-width="1.9"/>
<line x1="433.15" y1="319.8" x2="443.75" y2="319.8" stroke="#0000ff" stroke-width="1.8"/>
<rect x="432.2" y="336" width="12.5" height="36" fill="#0000ff"/>
<line x1="450.4" y1="295.7" x2="450.4" y2="281" stroke="#ff0000" stroke-width="1.9"/>
<line x1="445.1" y1="281" x2="455.7" y2="281" stroke="#ff0000" stroke-width="1.8"/>
<rect x="444.7" y="295.7" width="11.4" height="76.3" fill="#ff0000"/>
<line x1="517.4" y1="264.2" x2="517.4" y2="246" stroke="#0000ff" stroke-width="1.9"/>
<line x1="512.1" y1="246" x2="522.7" y2="246" stroke="#0000ff" stroke-width="1.8"/>
<rect x="511" y="264.2" width="12.8" height="107.8" fill="#0000ff"/>
<line x1="530.05" y1="267.7" x2="530.05" y2="250.7" stroke="#ff0000" stroke-width="1.9"/>
<line x1="524.75" y1="250.7" x2="535.35" y2="250.7" stroke="#ff0000" stroke-width="1.8"/>
<rect x="523.8" y="267.7" width="12.5" height="104.3" fill="#ff0000"/>
<line x1="552.25" y1="328.1" x2="552.25" y2="310" stroke="#0000ff" stroke-width="1.9"/>
<line x1="546.95" y1="310" x2="557.55" y2="310" stroke="#0000ff" stroke-width="1.8"/>
<rect x="546.2" y="328.1" width="12.1" height="43.9" fill="#0000ff"/>
<line x1="565" y1="261.8" x2="565" y2="238.8" stroke="#ff0000" stroke-width="1.9"/>
<line x1="559.7" y1="238.8" x2="570.3" y2="238.8" stroke="#ff0000" stroke-width="1.8"/>
<rect x="559" y="261.8" width="12" height="110.2" fill="#ff0000"/>
<line x1="623.85" y1="341.7" x2="623.85" y2="322.1" stroke="#0000ff" stroke-width="1.9"/>
<line x1="618.55" y1="322.1" x2="629.15" y2="322.1" stroke="#0000ff" stroke-width="1.8"/>
<rect x="617.6" y="341.7" width="12.5" height="30.3" fill="#0000ff"/>
<line x1="636.25" y1="372" x2="636.25" y2="358.3" stroke="#ff0000" stroke-width="1.9"/>
<line x1="630.95" y1="358.3" x2="641.55" y2="358.3" stroke="#ff0000" stroke-width="1.8"/>
<line x1="661.9" y1="348" x2="661.9" y2="340.2" stroke="#0000ff" stroke-width="1.9"/>
<line x1="656.6" y1="340.2" x2="667.2" y2="340.2" stroke="#0000ff" stroke-width="1.8"/>
<rect x="655.6" y="348" width="12.6" height="24" fill="#0000ff"/>
<line x1="674" y1="328.3" x2="674" y2="318" stroke="#ff0000" stroke-width="1.9"/>
<line x1="668.7" y1="318" x2="679.3" y2="318" stroke="#ff0000" stroke-width="1.8"/>
<rect x="668.2" y="328.3" width="11.6" height="43.7" fill="#ff0000"/>
<line x1="46" y1="372" x2="231" y2="372" stroke="#000" stroke-width="2"/>
<line x1="276" y1="372" x2="460.7" y2="372" stroke="#000" stroke-width="2"/>
<line x1="499" y1="372" x2="683" y2="372" stroke="#000" stroke-width="2"/>
<rect x="601.1" y="260.5" width="11.4" height="10.5" fill="#0000ff"/>
<rect x="601.1" y="281.1" width="11.4" height="10.6" fill="#ff0000"/>
<text transform="translate(616.7,268.3) scale(0.89,1)" font-size="15" text-anchor="start" font-family="'Liberation Serif', serif" font-weight="normal" fill="#1a1a1a" stroke="#1a1a1a" stroke-width="0.25">Young</text>
<text transform="translate(617,290.7) scale(0.94,1)" font-size="15" text-anchor="start" font-family="'Liberation Serif', serif" font-weight="normal" fill="#1a1a1a" stroke="#1a1a1a" stroke-width="0.25">Older</text>
<text x="0.9" y="14.5" font-size="19" text-anchor="start" font-family="'Liberation Sans', sans-serif" font-weight="bold" fill="#000">a</text>
<text x="237" y="14" font-size="19" text-anchor="start" font-family="'Liberation Sans', sans-serif" font-weight="bold" fill="#000">b</text>
<text x="463.3" y="14.1" font-size="19" text-anchor="start" font-family="'Liberation Sans', sans-serif" font-weight="bold" fill="#000">c</text>
<text x="1.4" y="220.6" font-size="19" text-anchor="start" font-family="'Liberation Sans', sans-serif" font-weight="bold" fill="#000">d</text>
<text x="236.3" y="221.3" font-size="19" text-anchor="start" font-family="'Liberation Sans', sans-serif" font-weight="bold" fill="#000">e</text>
<text x="463.5" y="220.7" font-size="19" text-anchor="start" font-family="'Liberation Sans', sans-serif" font-weight="bold" fill="#000">f</text>
</svg>
</body></html>
